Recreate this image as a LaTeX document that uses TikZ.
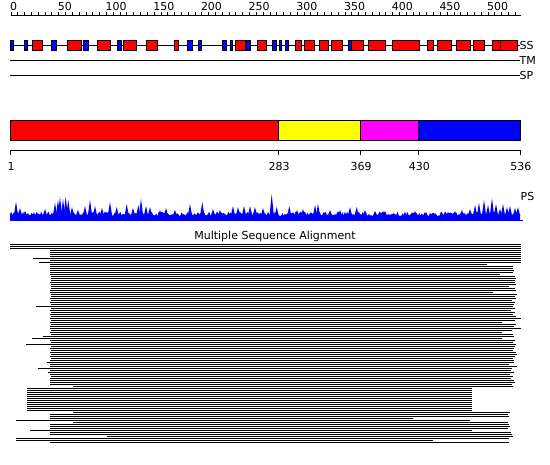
\documentclass[tikz,border=0pt]{standalone}
\usepackage{fontspec}
\setmainfont{DejaVu Sans}
\usepackage{xcolor}
\definecolor{ssred}{RGB}{255,0,0}
\definecolor{ssblue}{RGB}{0,0,255}
\definecolor{domyellow}{RGB}{255,255,0}
\definecolor{dommagenta}{RGB}{255,0,255}
\usetikzlibrary{positioning}

\begin{document}
\begin{tikzpicture}[x=1pt,y=-1pt,
  lbl/.style={font=\fontsize{11}{13}\selectfont,inner sep=0pt},
  track/.style={black,line width=0.8pt},
  helix/.style={draw=black,line width=0.8pt,fill=ssred},
  strand/.style={draw=black,line width=0.8pt,fill=ssblue},
  dombox/.style={draw=black,line width=0.8pt},
  msarow/.style={black,line width=1.2pt}]
  \fill[white] (0,0) rectangle (550,465);
  \useasboundingbox (0,0) rectangle (550,465);

  % --- Ruler ---
  \draw[track] (11,15) -- (521,15);
  \foreach \k in {0,...,74} \draw[track] ({11+\k*47.7/7},15) -- ++(0,-3);
  \foreach \v [count=\k from 0] in {0,50,...,500}
    \node[lbl,anchor=base west] (rul\v) at ({10+\k*47.7},10.5) {\v};

  % --- SS / TM / SP tracks ---
  \draw[track] (10,45) -- (520,45);
  \draw[track] (10,60) -- (520,60);
  \draw[track] (10,75) -- (520,75);
  \foreach \a/\b in {10.7/13.3,24.7/27.3,51.3/56,83.3/88.3,117.3/121.7,187.5/192.7,
      198.3/201.5,222.5/226.7,230/232.5,246.3/250.7,272.5/276.7,279.3/281.7,
      285/288.3,348.7/351}
    \draw[strand] (\a,40) rectangle (\b,50);
  \foreach \a/\b in {32.7/42.3,67.7/81.7,97.3/110.3,123.3/136,146.7/157.3,174.7/178.5,
      235.7/245,257.7/266.7,295.7/301.7,304.3/314.3,319.3/328.7,331.3/342.3,
      351/363.3,368.3/385.7,392.3/419.3,427.5/433.5,437.3/451.5,456.5/470.2,
      473/484.3,492.3/500.5,500.5/517.3}
    \draw[helix] (\a,40) rectangle (\b,50);
  \node[lbl,anchor=west] (ss) at (519.5,45.5) {SS};
  \node[lbl,anchor=west] (tm) at (519.5,60.5) {TM};
  \node[lbl,anchor=west] (sp) at (519.5,75.5) {SP};

  % --- Domains ---
  \draw[dombox,fill=ssred] (10.3,120.3) rectangle (278.3,140.3);
  \draw[dombox,fill=domyellow] (278.3,120.3) rectangle (360.3,140.3);
  \draw[dombox,fill=dommagenta] (360.3,120.3) rectangle (418.5,140.3);
  \draw[dombox,fill=ssblue] (418.5,120.3) rectangle (520,140.3);
  \draw[track] (10.3,150.3) -- (520,150.3);
  \foreach \x/\t in {10.3/1,278.3/283,360.3/369,418.5/430,520/536} {
    \draw[track] (\x,150.3) -- (\x,155.5);
    \node[lbl,anchor=base] (pos\t) at (\x+0.8,170.5) {\t};
  }

  % --- PS profile ---
  \pgfmathsetseed{42}
  \fill[ssblue] (10,220.5) \foreach \x in {10,11.2,...,520} { -- (\x,{216-4.5*rnd}) } -- (520,220.5) -- cycle;
  \foreach \x/\y in {16/201.7,20/208,25/211,36.7/212,45/209,55/203,58/200,60/197,
      63/199,65.7/196.7,68.3/200,72/207,78/210,85/206,90/200,95/206,102/208,
      110/202,116.7/207,126.7/204,133/208,138.3/205,141/199,146/206,150/207,
      160/210,166/208,175/210,190/204,202.3/202,213/209,220/210,233/206,
      238/207,244/206,250/206,255/207,263/208,271.7/194,276.7/207,289.3/206,
      297/210,303/209,315/205,318/204,330/210,340/210,350/207,356.7/207,
      365/210,375/211,385/211,393.3/213,405/212,415/211,425/212,435/213,
      445/212,455/211,462/210,470/209,475/205,479/203,484/200,488/205,
      492/198,496/204,500/209,503/204,507/207,510/206,515/208,518/207}
    \fill[ssblue] ({\x-2.2},216) -- (\x,\y) -- ({\x+2.2},216) -- cycle;
  \draw[ssblue,line width=0.8pt] (10,220.5) -- (523,220.5);
  \node[lbl,anchor=west] (ps) at (520.5,196.5) {PS};

  % --- Multiple sequence alignment ---
  \node[lbl,anchor=base] (msa) at (275,240) {Multiple Sequence Alignment};
  \foreach \s/\e [count=\i from 0] in {10/520.7,10/520.7,10/520.7,50/520.7,50/520.7,
      50/520.7,50/520.7,33/520.7,50/520.7,39/520.7,50/487,50/513,50/513,50/514,
      50/513,50/500,51/515,51/516,51/515,50/515,51/516,51/509,51/515,50/516,
      50/493,51/517,51/515,50/516,51/512,50/515,51/514,36/513,51/515,50/511,
      51/515,50/513,51/516,50/520.7,51/515,50/502,51/516,50/514,50/520.7,51/512,
      50/502,51/513,43/514,32/502,50/515,51/513,26/516,51/515,50/514,51/513,
      50/516,51/517,50/515,51/513,50/514,47/514,50/509,50/517,38/512,50/511,
      48/514,50/510,51/513,50/511,50/514,50/515,50/512,73/513,
      27/472,27/472,27/472,27/472,27/472,27/472,27/472,27/472,27/472,27/472,
      27/472,27/472,73/510,50/508,50/509,50/413,16/470,73/508,50/509,50/510,
      50/508,30/472,50/511,50/512,107/513,16/509,16/433,50/509}
    \draw[msarow] (\s,{244.5+2*\i}) -- (\e,{244.5+2*\i});
\end{tikzpicture}
\end{document}
